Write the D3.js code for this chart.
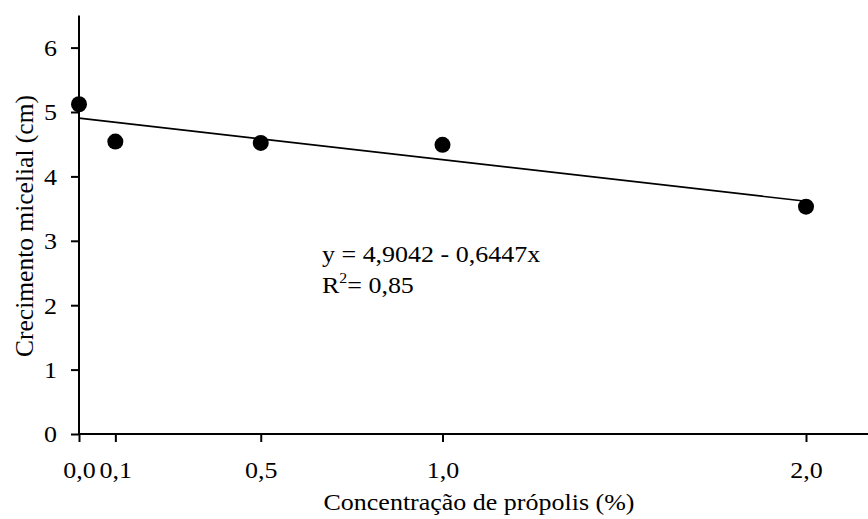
<!DOCTYPE html>
<html>
<head>
<meta charset="utf-8">
<script src="https://cdn.jsdelivr.net/npm/d3@7/dist/d3.min.js"></script>
<style>
body { margin: 0; background: #fff; }
svg text { font-family: "Liberation Serif", "Times New Roman", serif; fill: #000; }
</style>
</head>
<body>
<svg id="chart" width="868" height="519"></svg>
<script>
const concentrations = [0.0, 0.1, 0.5, 1.0, 2.0];
const growth = [5.12, 4.54, 4.52, 4.49, 3.53];
const xTickValues = [0.0, 0.1, 0.5, 1.0, 2.0];
const xTickLabels = ["0,0", "0,1", "0,5", "1,0", "2,0"];
const yTickValues = [0, 1, 2, 3, 4, 5, 6];
const intercept = 4.9042;
const slope = -0.6447;
const equationText = "y = 4,9042 - 0,6447x";
const r2Value = "= 0,85";
const xTitle = "Concentração de própolis (%)";
const yTitle = "Crecimento micelial (cm)";

const SX = 1.13;   // horizontal stretch of the reference text
const FS = 23;

const svg = d3.select("#chart");
const x = d3.scaleLinear().domain([0, 2]).range([79, 806]);
const y = d3.scaleLinear().domain([0, 6]).range([434, 47.6]);

// axes
const xAxis = d3.axisBottom(x).tickValues(xTickValues).tickSize(8)
  .tickFormat((d, i) => xTickLabels[i]);
const gx = svg.append("g").attr("transform", "translate(0,434)").call(xAxis);
gx.select(".domain").attr("d", `M${x(0)},0H868`);
gx.selectAll("path, line").attr("stroke", "#000").attr("stroke-width", 2);
gx.selectAll("text").attr("font-size", FS).attr("dy", 0).attr("y", 0)
  .attr("transform", `translate(0,44) scale(${SX},1)`)
  .style("font-family", '"Liberation Serif", serif');

const yAxis = d3.axisLeft(y).tickValues(yTickValues).tickSize(8).tickFormat(d3.format("d"));
const gy = svg.append("g").attr("transform", `translate(${x(0)},0)`).call(yAxis);
gy.select(".domain").attr("d", `M0,${y(0)}V${y(6.5)}`);
gy.selectAll("path, line").attr("stroke", "#000").attr("stroke-width", 2);
gy.selectAll("text").attr("font-size", FS).attr("x", 0).attr("dy", "0.34em")
  .attr("transform", `translate(-22,0) scale(${SX},1)`)
  .style("font-family", '"Liberation Serif", serif');

// regression line
svg.append("line")
  .attr("x1", x(0)).attr("y1", y(intercept))
  .attr("x2", x(2)).attr("y2", y(intercept + slope * 2))
  .attr("stroke", "#000").attr("stroke-width", 1.6);

// points
svg.selectAll("circle.pt").data(concentrations).join("circle")
  .attr("class", "pt")
  .attr("cx", d => x(d))
  .attr("cy", (d, i) => y(growth[i]))
  .attr("r", 8)
  .attr("fill", "#000");

// equation
svg.append("text").attr("transform", `translate(322,262) scale(${SX},1)`)
  .attr("font-size", FS).text(equationText);
const r2 = svg.append("text").attr("transform", `translate(322,293) scale(${SX},1)`)
  .attr("font-size", FS);
r2.append("tspan").text("R");
r2.append("tspan").attr("font-size", 14).attr("dy", -10).text("2");
r2.append("tspan").attr("dy", 10).text(r2Value);

// axis titles
svg.append("text").attr("transform", `translate(479,510) scale(${SX},1)`)
  .attr("text-anchor", "middle").attr("font-size", FS).text(xTitle);
svg.append("text").attr("transform", "translate(33,226) rotate(-90)")
  .attr("text-anchor", "middle").attr("font-size", 25.5).text(yTitle);
</script>
</body>
</html>
